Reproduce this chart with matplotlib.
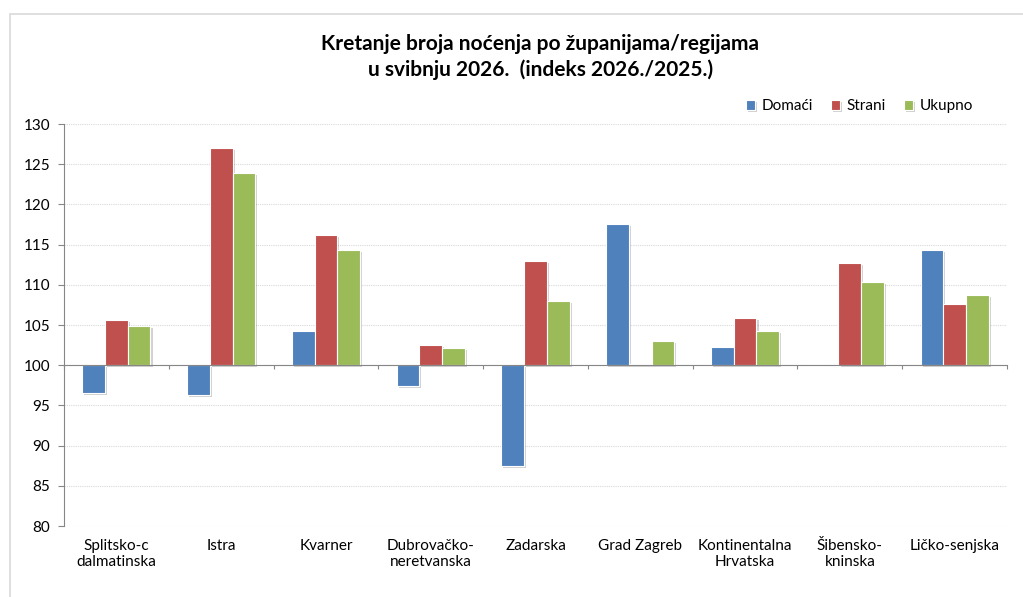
"""Index of overnight stays by county/region, May 2026 vs 2025."""

import matplotlib

matplotlib.use("Agg")
import matplotlib.pyplot as plt
import matplotlib.patheffects as pe
import numpy as np
from matplotlib.patches import Rectangle

regions = [
    "Splitsko-c\ndalmatinska",
    "Istra",
    "Kvarner",
    "Dubrovačko-\nneretvanska",
    "Zadarska",
    "Grad Zagreb",
    "Kontinentalna\nHrvatska",
    "Šibensko-\nkninska",
    "Ličko-senjska",
]
domaci = [96.5, 96.3, 104.2, 97.4, 87.5, 117.6, 102.3, 100.0, 114.3]
strani = [105.6, 127.0, 116.2, 102.5, 113.0, 100.2, 105.9, 112.7, 107.6]
ukupno = [104.9, 123.9, 114.3, 102.2, 108.0, 103.0, 104.3, 110.4, 108.7]

series = [("Domaći", domaci, "#4F81BD"), ("Strani", strani, "#C0504D"), ("Ukupno", ukupno, "#9BBB59")]
y_ticks = list(range(80, 131, 5))
BASE = 100

plt.rcParams["font.family"] = ["Lato", "DejaVu Sans"]

fig = plt.figure(figsize=(10.23, 5.97), dpi=100)
ax = fig.add_axes([64 / 1023, 1 - 526 / 597, (1007 - 64) / 1023, (526 - 124) / 597])

# outer chart border (cropped on the right/bottom in the original)
fig.patches.append(
    Rectangle((10 / 1023, -0.05), 1.1, 1 - 14 / 597 + 0.05, transform=fig.transFigure,
              fill=False, edgecolor="#D9D9D9", linewidth=1.2)
)

x = np.arange(len(regions))
width = 0.217
shadow = [pe.SimplePatchShadow(offset=(1.5, -1.5), shadow_rgbFace="#000000", alpha=0.18), pe.Normal()]
for i, (name, values, color) in enumerate(series):
    heights = np.asarray(values) - BASE
    bars = ax.bar(x + (i - 1) * width, heights, width, bottom=BASE, color=color,
                  edgecolor="white", linewidth=0.8, label=name, zorder=3)
    for bar in bars:
        bar.set_path_effects(shadow)

ax.set_xlim(-0.5, len(regions) - 0.5)
ax.set_ylim(80, 130)
ax.set_yticks(y_ticks)
ax.tick_params(axis="y", labelsize=11, length=4, color="#868686", pad=6)
ax.yaxis.grid(True, color="#D9D9D9", linestyle=(0, (1, 1)), linewidth=0.8, zorder=0)

# category axis crosses at 100, boundaries marked with small ticks
ax.spines["bottom"].set_position(("data", BASE))
ax.set_xticks(np.arange(len(regions) + 1) - 0.5)
ax.tick_params(axis="x", length=3, color="#868686", labelbottom=False)
for spine in ("top", "right"):
    ax.spines[spine].set_visible(False)
for spine in ("left", "bottom"):
    ax.spines[spine].set_color("#868686")
    ax.spines[spine].set_zorder(4)

for xi, label in zip(x, regions):
    ax.text(xi, -0.032, label, transform=ax.get_xaxis_transform(), ha="center", va="top",
            fontsize=11, linespacing=1.2)

fig.text(0.528, 1 - 57 / 597, "Kretanje broja noćenja po županijama/regijama\nu svibnju 2026.  (indeks 2026./2025.)",
         ha="center", va="center", fontsize=15, fontweight="bold", linespacing=1.3)

ax.legend(loc="lower right", bbox_to_anchor=(0.975, 1.0), ncol=3, frameon=False, fontsize=11,
          handlelength=0.6, handleheight=0.6, handletextpad=0.4, columnspacing=1.2, borderaxespad=0.3)

fig.savefig("out.png", dpi=100)
